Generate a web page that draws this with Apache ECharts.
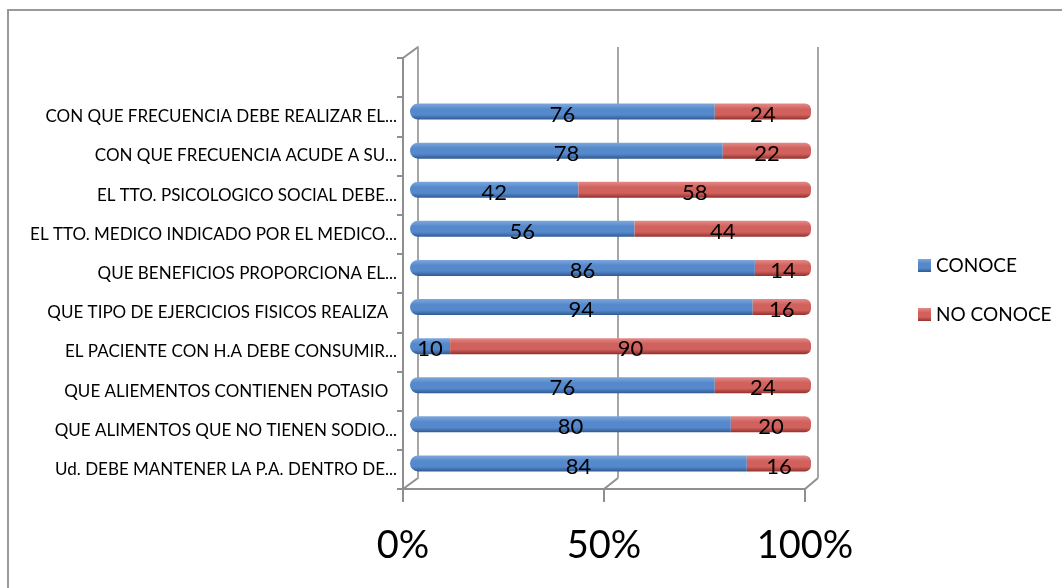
<!DOCTYPE html>
<html>
<head>
<meta charset="utf-8">
<script src="https://cdn.jsdelivr.net/npm/echarts@6/dist/echarts.min.js"></script>
<style>
  html, body { margin: 0; padding: 0; background: #fff; }
  #chart { width: 1062px; height: 588px; }
</style>
</head>
<body>
<div id="chart"></div>
<script>
// Questions, listed bottom to top (category axis order)
const categories = [
  'Ud. DEBE MANTENER LA P.A. DENTRO DE...',
  'QUE ALIMENTOS QUE NO TIENEN SODIO...',
  'QUE ALIEMENTOS CONTIENEN POTASIO  ',
  'EL PACIENTE CON H.A DEBE CONSUMIR...',
  'QUE TIPO DE EJERCICIOS FISICOS REALIZA  ',
  'QUE BENEFICIOS PROPORCIONA EL...',
  'EL TTO. MEDICO INDICADO POR EL MEDICO...',
  'EL TTO. PSICOLOGICO SOCIAL DEBE...',
  'CON QUE FRECUENCIA ACUDE A SU...',
  'CON QUE FRECUENCIA DEBE REALIZAR EL...'
];
const conoce   = [84, 80, 76, 10, 94, 86, 56, 42, 78, 76];
const noConoce = [16, 20, 24, 90, 16, 14, 44, 58, 22, 24];
const seriesNames = ['CONOCE', 'NO CONOCE'];
const percentTicks = ['0%', '50%', '100%'];

// 100% stacked: each bar is its share of the row total
const totals = conoce.map((v, i) => v + noConoce[i]);
const share = arr => arr.map((v, i) => v / totals[i] * 100);

const FONT = 'Lato';
const GRAY = '#8f8f8f';

function cylinder(top, mid, bottom) {
  return new echarts.graphic.LinearGradient(0, 0, 0, 1, [
    { offset: 0, color: top },
    { offset: 0.35, color: mid },
    { offset: 0.7, color: mid },
    { offset: 1, color: bottom }
  ]);
}

const chart = echarts.init(document.getElementById('chart'), null, { renderer: 'canvas' });

const rawBy = [conoce, noConoce];
function labelOf(si) {
  return {
    show: true,
    position: 'inside',
    offset: [0, 3],
    color: '#000',
    fontFamily: FONT,
    fontSize: 22,
    formatter: p => String(rawBy[si][p.dataIndex])
  };
}

chart.setOption({
  animation: false,
  backgroundColor: '#fff',
  textStyle: { fontFamily: FONT },
  legend: {
    orient: 'vertical',
    left: 913,
    top: 251,
    itemWidth: 13,
    itemHeight: 13,
    itemGap: 30,
    icon: 'rect',
    data: seriesNames,
    textStyle: { fontFamily: FONT, fontSize: 19, color: '#000' }
  },
  grid: [
    // front frame: category ticks, labels, percent axis
    { left: 403, top: 58, width: 402, height: 431, containLabel: false },
    // back wall with vertical gridlines
    { left: 418, top: 47, width: 400, height: 431, containLabel: false },
    // plane of the bars
    { left: 410, top: 92, width: 401, height: 391, containLabel: false }
  ],
  xAxis: [
    {
      gridIndex: 0, type: 'value', min: 0, max: 100, interval: 50,
      axisLine: { show: true, lineStyle: { color: GRAY, width: 2 } },
      axisTick: { show: true, length: 13, lineStyle: { color: GRAY, width: 2 } },
      splitLine: { show: false },
      axisLabel: {
        margin: 38, fontFamily: FONT, fontSize: 38, color: '#000',
        formatter: v => percentTicks[Math.round(v / 50)]
      }
    },
    {
      gridIndex: 1, type: 'value', min: 0, max: 100, interval: 50,
      axisLine: { show: false }, axisTick: { show: false }, axisLabel: { show: false },
      splitLine: { show: true, lineStyle: { color: '#a6a6a6', width: 2 } }
    },
    {
      gridIndex: 2, type: 'value', min: 0, max: 100, show: false
    }
  ],
  yAxis: [
    {
      gridIndex: 0, type: 'category', data: categories.concat(['']),
      axisLine: { show: true, lineStyle: { color: GRAY, width: 2 } },
      axisTick: { show: true, length: 6, lineStyle: { color: GRAY, width: 2 } },
      axisLabel: { margin: 6, fontFamily: FONT, fontSize: 17, color: '#000' }
    },
    {
      gridIndex: 1, type: 'category', data: categories.concat(['']),
      axisLine: { show: true, lineStyle: { color: '#a6a6a6', width: 2 } },
      axisTick: { show: false }, axisLabel: { show: false }
    },
    {
      gridIndex: 2, type: 'category', data: categories, show: false
    }
  ],
  graphic: [
    // outer chart border
    { type: 'rect', shape: { x: 8, y: 10, width: 1100, height: 700 },
      style: { fill: 'none', stroke: '#9a9a9a', lineWidth: 2 }, silent: true },
    // depth edges joining front frame and back wall
    { type: 'line', shape: { x1: 403, y1: 58, x2: 418, y2: 47 }, style: { stroke: GRAY, lineWidth: 2 } },
    { type: 'line', shape: { x1: 403, y1: 489, x2: 418, y2: 478 }, style: { stroke: GRAY, lineWidth: 2 } },
    { type: 'line', shape: { x1: 604, y1: 489, x2: 618, y2: 478 }, style: { stroke: GRAY, lineWidth: 2 } },
    { type: 'line', shape: { x1: 805, y1: 489, x2: 818, y2: 478 }, style: { stroke: GRAY, lineWidth: 2 } }
  ],
  series: [
    {
      name: seriesNames[0], type: 'bar', stack: 'total',
      xAxisIndex: 2, yAxisIndex: 2, barWidth: 16,
      data: share(conoce),
      itemStyle: {
        color: cylinder('#7ea7dc', '#5589cc', '#2f5a91'),
        borderRadius: [8, 0, 0, 8]
      },
      label: labelOf(0),
      z: 3
    },
    {
      name: seriesNames[1], type: 'bar', stack: 'total',
      xAxisIndex: 2, yAxisIndex: 2, barWidth: 16,
      data: share(noConoce),
      itemStyle: {
        color: cylinder('#e48a87', '#d0615d', '#93302d'),
        borderRadius: [0, 6, 6, 0]
      },
      label: labelOf(1),
      z: 3
    }
  ]
});
</script>
</body>
</html>
